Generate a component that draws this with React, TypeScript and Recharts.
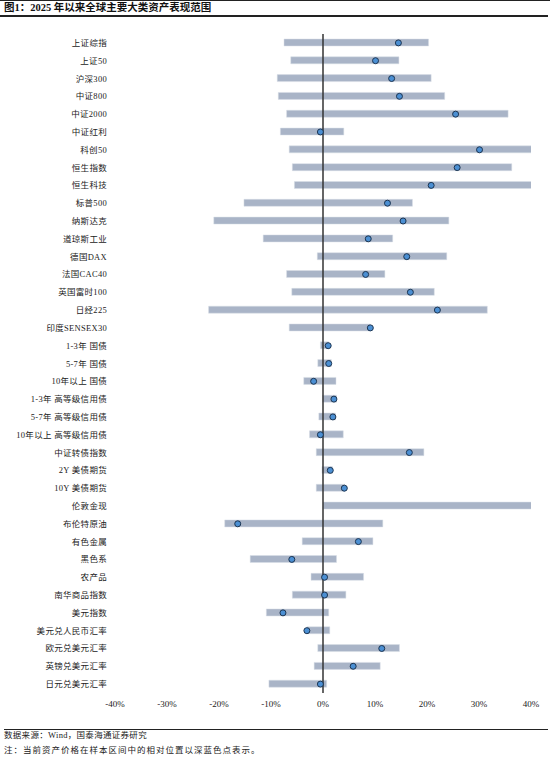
import { Bar, ComposedChart, Line, ReferenceLine, XAxis, YAxis } from 'recharts';

const assets = [
    '上证综指', '上证50', '沪深300', '中证800', '中证2000', '中证红利', '科创50',
    '恒生指数', '恒生科技', '标普500', '纳斯达克', '道琼斯工业', '德国DAX', '法国CAC40',
    '英国富时100', '日经225', '印度SENSEX30', '1-3年 国债', '5-7年 国债', '10年以上 国债',
    '1-3年 高等级信用债', '5-7年 高等级信用债', '10年以上 高等级信用债', '中证转债指数',
    '2Y 美债期货', '10Y 美债期货', '伦敦金现', '布伦特原油', '有色金属', '黑色系', '农产品',
    '南华商品指数', '美元指数', '美元兑人民币汇率', '欧元兑美元汇率', '英镑兑美元汇率', '日元兑美元汇率'
];

// lowest / highest change since start of 2025, in %
const lows = [
    -7.5, -6.2, -8.8, -8.6, -7.0, -8.2, -6.5,
    -5.9, -5.5, -15.2, -21.0, -11.5, -1.1, -7.0,
    -6.0, -22.0, -6.5, -0.5, -1.0, -3.7,
    -0.1, -0.8, -2.6, -1.3,
    -0.2, -1.3, 0, -18.9, -4.0, -14.0, -2.3,
    -5.9, -10.9, -3.1, -1.0, -1.7, -10.4
];
const highs = [
    20.3, 14.6, 20.8, 23.4, 35.6, 4.0, 40.5,
    36.3, 40.5, 17.2, 24.2, 13.4, 23.8, 11.9,
    21.4, 31.6, 9.1, 1.1, 1.6, 2.5,
    2.6, 2.4, 3.9, 19.4,
    1.8, 4.2, 40.5, 11.5, 9.6, 2.6, 7.8,
    4.4, 1.1, 1.3, 14.7, 11.0, 0.7
];
// current level
const current = [
    14.5, 10.1, 13.2, 14.7, 25.5, -0.5, 30.1,
    25.8, 20.8, 12.4, 15.4, 8.7, 16.1, 8.2,
    16.8, 22.0, 9.1, 1.0, 1.1, -1.8,
    2.1, 1.9, -0.5, 16.6,
    1.4, 4.1, null, -16.4, 6.8, -6.0, 0.3,
    0.3, -7.7, -3.1, 11.3, 5.8, -0.5
];

const xTicks = [-40, -30, -20, -10, 0, 10, 20, 30, 40];

const data = assets.map((name, i) => ({
    name,
    range: [lows[i], highs[i]],
    cur: current[i],
}));

const font = "'Liberation Serif', 'Noto Sans CJK SC', serif";

// single-line label, recharts wraps long ones otherwise
const AssetTick = ({ x, y, payload }: any) => (
    <text x={x} y={y} dy={3} textAnchor="end" fontSize={8.5} fill="#222" fontFamily={font} letterSpacing={0.3}>
        {payload.value}
    </text>
);

export default function App() {
    return (
        <div style={{ position: 'absolute', left: 0, top: 0, width: 550, height: 758, background: '#fff', fontFamily: font }}>
            <div style={{ position: 'absolute', left: 0, top: 0, width: 550, height: 1, background: '#222' }} />
            <div style={{ position: 'absolute', left: 4, top: 1, fontSize: 10.5, fontWeight: 'bold', color: '#111', lineHeight: '14px' }}>
                图1：2025 年以来全球主要大类资产表现范围
            </div>
            <div style={{ position: 'absolute', left: 0, top: 15, width: 548, height: 1.5, background: '#222' }} />

            <div style={{ position: 'absolute', left: 0, top: 0 }}>
                <ComposedChart
                    width={550}
                    height={725}
                    data={data}
                    layout="vertical"
                    margin={{ top: 34, right: 19, bottom: 12, left: 0 }}
                >
                    <XAxis
                        type="number"
                        domain={[-40, 40]}
                        ticks={xTicks}
                        allowDataOverflow
                        axisLine={false}
                        tickLine={false}
                        tickFormatter={(v) => `${v}%`}
                        tick={{ fontSize: 9, fill: '#222', fontFamily: font }}
                        height={20}
                        tickMargin={2}
                    />
                    <YAxis
                        type="category"
                        dataKey="name"
                        width={115}
                        interval={0}
                        axisLine={false}
                        tickLine={false}
                        tick={<AssetTick />}
                        tickMargin={2}
                    />
                    <Bar dataKey="range" barSize={7} fill="#a9b4c7" stroke="#d9dee7" strokeWidth={0.5} isAnimationActive={false} />
                    <ReferenceLine x={0} stroke="#333" strokeWidth={1.5} />
                    <Line
                        dataKey="cur"
                        stroke="none"
                        dot={{ r: 3, fill: '#4b8fd3', stroke: '#1c3552', strokeWidth: 1 }}
                        activeDot={false}
                        isAnimationActive={false}
                    />
                </ComposedChart>
            </div>

            <div style={{ position: 'absolute', left: 4, top: 728.5, width: 544, height: 1.2, background: '#222' }} />
            <div style={{ position: 'absolute', left: 4, top: 729, fontSize: 8.5, color: '#222', lineHeight: '12px', letterSpacing: 0.3 }}>
                数据来源：Wind，国泰海通证券研究
            </div>
            <div style={{ position: 'absolute', left: 4, top: 744, fontSize: 8.5, color: '#222', lineHeight: '12px', letterSpacing: 1 }}>
                注：当前资产价格在样本区间中的相对位置以深蓝色点表示。
            </div>
        </div>
    );
}
